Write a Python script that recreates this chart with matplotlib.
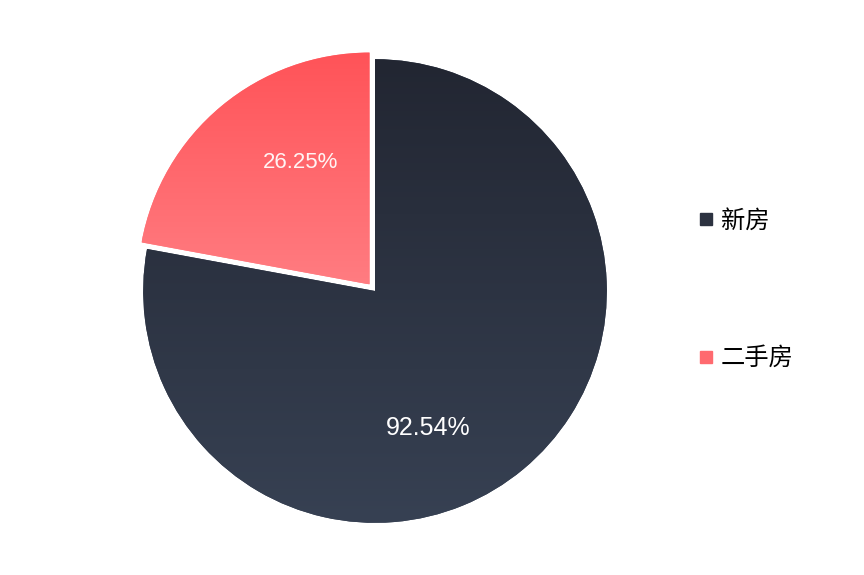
import matplotlib
matplotlib.use("Agg")
import matplotlib.pyplot as plt
import numpy as np
from matplotlib.colors import LinearSegmentedColormap
from matplotlib.lines import Line2D

plt.rcParams['font.family'] = ['Noto Sans CJK SC', 'DejaVu Sans']

categories = ["新房", "二手房"]
values = [92.54, 26.25]
labels = ["92.54%", "26.25%"]

# gradient colours (top, bottom) and legend colour per slice
grad_colors = [("#222632", "#374153"), ("#ff5358", "#ff7c81")]
legend_colors = ["#2c3240", "#ff6a6f"]


def fill_gradient(ax, wedge, c_top, c_bottom):
    verts = wedge.get_path().vertices
    x0, y0 = verts.min(0)
    x1, y1 = verts.max(0)
    cmap = LinearSegmentedColormap.from_list("g", [c_bottom, c_top])
    grad = np.linspace(0, 1, 256).reshape(-1, 1)
    im = ax.imshow(grad, extent=[x0, x1, y0, y1], origin="lower", cmap=cmap,
                   aspect="auto", interpolation="bilinear", zorder=wedge.get_zorder() + 0.1)
    im.set_clip_path(wedge)


fig = plt.figure(figsize=(8.64, 5.75), dpi=100)
ax = fig.add_axes([0.1389, 0.0504, 0.5903, 0.887])

wedges, _ = ax.pie(values, startangle=90, counterclock=False,
                   explode=[0, 0.037], radius=1.0,
                   colors=[c[1] for c in grad_colors],
                   wedgeprops=dict(linewidth=0))

for w, (ct, cb) in zip(wedges, grad_colors):
    fill_gradient(ax, w, ct, cb)

ax.set_xlim(-1.1, 1.1)
ax.set_ylim(-1.1, 1.1)
ax.set_aspect("equal")
ax.axis("off")

# percentage labels
ax.text(0.23, -0.59, labels[0], color="white", fontsize=18, family="Liberation Sans",
        ha="center", va="center", zorder=5)
ax.text(-0.32, 0.555, labels[1], color="#fff4f4", fontsize=16, family="Liberation Sans",
        ha="center", va="center", zorder=5)

handles = [Line2D([], [], marker="s", linestyle="none", markersize=9,
                  markerfacecolor=c, markeredgecolor=c) for c in legend_colors]
fig.legend(handles, categories, loc="center left", bbox_to_anchor=(0.782, 0.497),
           frameon=False, fontsize=17.5, labelspacing=4.6, handletextpad=0.27,
           handlelength=0.7)

fig.savefig("out.png", dpi=100, facecolor="white")
